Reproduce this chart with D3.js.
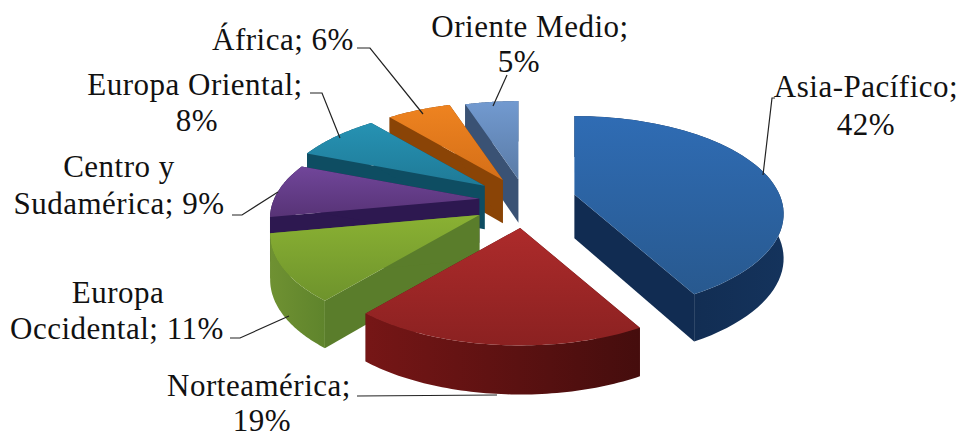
<!DOCTYPE html>
<html>
<head>
<meta charset="utf-8">
<script src="https://cdn.jsdelivr.net/npm/d3@7/dist/d3.min.js"></script>
<style>
  html, body { margin: 0; padding: 0; background: #fff; }
  svg { display: block; }
</style>
</head>
<body>
<svg id="chart" width="960" height="432"></svg>
<script>
// Market share by region
const regions = ["Asia-Pacífico", "Norteamérica", "Europa Occidental", "Centro y Sudamérica", "Europa Oriental", "África", "Oriente Medio"];
const shares = [42, 19, 11, 9, 8, 6, 5];

// Each label is broken into lines by hand, one array per region
const labelLines = [
  ["Asia-Pacífico;", "42%"],
  ["Norteamérica;", "19%"],
  ["Europa", "Occidental; 11%"],
  ["Centro y", "Sudamérica; 9%"],
  ["Europa Oriental;", "8%"],
  ["África; 6%"],
  ["Oriente Medio;", "5%"]
];
// Centre and baseline of every label line
const labelPlaces = [
  [[866, 97], [866, 135]],
  [[259, 396], [262, 431]],
  [[118, 303], [117, 339]],
  [[119, 177], [119, 214]],
  [[195, 95], [197, 131]],
  [[283, 50]],
  [[530, 37], [519, 72]]
];
const leaders = [
  [[775, 98], [772, 98], [763, 175]],
  [[357, 396], [497, 395]],
  [[230, 338], [240, 338], [289, 316]],
  [[232, 215], [242, 215], [278, 192]],
  [[310, 93], [322, 93], [340, 138]],
  [[357, 48], [370, 48], [423, 114]],
  [[507, 75], [493, 106]]
];

// Slice faces: top gradient (far, near), radial side, outer side (left, right)
const topFar   = ["#2f6cb4", "#ad2b2b", "#8ab133", "#71469a", "#2692b3", "#ee8320", "#729ad0"];
const topNear  = ["#28598f", "#8b2121", "#6e932c", "#573376", "#1f7a97", "#d56f18", "#5a7ba6"];
const sideDark = ["#112c52", "#541111", "#5a7d2b", "#2d1850", "#0e4d62", "#8a4406", "#3a5274"];
const rimLeft  = ["#0f2647", "#761616", "#6f9132", "#2d1850", "#0e4d62", "#8a4406", "#3a5274"];
const rimRight = ["#14335c", "#450d0d", "#5f842c", "#2d1850", "#0e4d62", "#8a4406", "#3a5274"];

// Projection of the tilted pie onto the page
const center = { x: 525, y: 201 };
const explode = [51, 52, 53, 46, 50, 46, 42];
const radiusX = 205;
const radiusY = 94;
const tilt = 0.52;
const depthPerspective = 0.2;
const thickness = 44;

const svg = d3.select("#chart");
const defs = svg.append("defs");

const pieAngles = d3.pie().sort(null).value(d => d)(shares);

function apexOf(slice, i) {
  const mid = (slice.startAngle + slice.endAngle) / 2;
  return [center.x + explode[i] * Math.sin(mid), center.y - explode[i] * tilt * Math.cos(mid)];
}
function rimPoint(apex, angle) {
  const s = 1 / (1 + depthPerspective * Math.cos(angle));
  return [apex[0] + radiusX * Math.sin(angle) * s, apex[1] - radiusY * Math.cos(angle) * s];
}
const drop = p => [p[0], p[1] + thickness * (1 + 0.08 * (p[1] - 200) / 100)];
const pathOf = d3.line();

// Far slices are painted first so nearer ones cover their sides
const paintOrder = [6, 5, 4, 3, 2, 1, 0];
const slices = svg.selectAll("g.slice").data(paintOrder).join("g").attr("class", "slice");

slices.each(function (i) {
  const g = d3.select(this);
  const slice = pieAngles[i];
  const apex = apexOf(slice, i);
  const angles = d3.range(0, 61).map(k => slice.startAngle + (slice.endAngle - slice.startAngle) * k / 60);
  const rim = angles.map(a => rimPoint(apex, a));
  const rimDown = rim.map(drop);

  const topId = "top" + i, rimId = "rim" + i;
  const topGrad = defs.append("linearGradient").attr("id", topId).attr("x1", 0).attr("x2", 0).attr("y1", 0).attr("y2", 1);
  topGrad.append("stop").attr("offset", 0).attr("stop-color", topFar[i]);
  topGrad.append("stop").attr("offset", 1).attr("stop-color", topNear[i]);
  const rimGrad = defs.append("linearGradient").attr("id", rimId).attr("x1", 0).attr("x2", 1).attr("y1", 0).attr("y2", 0);
  rimGrad.append("stop").attr("offset", 0).attr("stop-color", rimLeft[i]);
  rimGrad.append("stop").attr("offset", 1).attr("stop-color", rimRight[i]);

  // radial walls
  [rim[0], rim[rim.length - 1]].forEach(p => {
    g.append("path").attr("fill", sideDark[i])
      .attr("d", pathOf([apex, p, drop(p), drop(apex)]) + "Z");
  });
  // outer curved wall
  g.append("path").attr("fill", `url(#${rimId})`)
    .attr("d", pathOf(rim.concat(rimDown.slice().reverse())) + "Z");
  // top face
  g.append("path").attr("fill", `url(#${topId})`)
    .attr("d", pathOf([apex].concat(rim)) + "Z");
});

// Leader lines from labels to slices
svg.selectAll("path.leader").data(leaders).join("path")
  .attr("class", "leader")
  .attr("fill", "none")
  .attr("stroke", "#222")
  .attr("stroke-width", 1.2)
  .attr("d", d => pathOf(d));

// Region labels
svg.selectAll("text.label").data(regions).join("text")
  .attr("class", "label")
  .attr("text-anchor", "middle")
  .style("font-family", "'Liberation Serif', Tinos, 'Times New Roman', serif")
  .style("font-size", "31px")
  .style("letter-spacing", "0.5px")
  .style("fill", "#111")
  .each(function (d, i) {
    const t = d3.select(this);
    labelLines[i].forEach((line, k) => {
      t.append("tspan")
        .attr("x", labelPlaces[i][k][0])
        .attr("y", labelPlaces[i][k][1])
        .text(line);
    });
  });
</script>
</body>
</html>
